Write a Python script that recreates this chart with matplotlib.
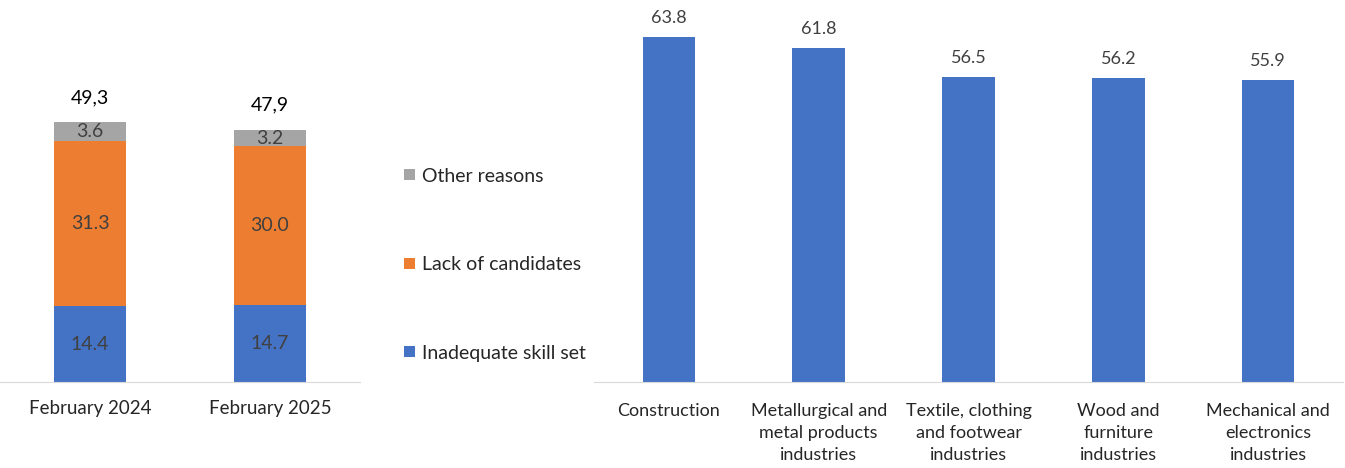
import matplotlib.pyplot as plt
import numpy as np

plt.rcParams['font.family'] = ['Lato', 'DejaVu Sans']

# left panel: reasons for hiring difficulty
periods = ['February 2024', 'February 2025']
skill_set = [14.4, 14.7]
lack_cand = [31.3, 30.0]
other = [3.6, 3.2]
totals_txt = ['49,3', '47,9']

# right panel: sectors
sectors = ['Construction', 'Metallurgical and\nmetal products\nindustries',
           'Textile, clothing\nand footwear\nindustries', 'Wood and\nfurniture\nindustries',
           'Mechanical and\nelectronics\nindustries']
sector_vals = [63.8, 61.8, 56.5, 56.2, 55.9]

blue = '#4472C4'
orange = '#ED7D31'
grey = '#A5A5A5'
txt = '#404040'

W, H = 1345, 468
fig = plt.figure(figsize=(W / 100, H / 100), dpi=100)

def px_axes(l, r, top, bottom):
    return fig.add_axes([l / W, 1 - bottom / H, (r - l) / W, (bottom - top) / H])

# ---- left stacked bars ----
ax1 = px_axes(0, 360, 30, 382)
x = np.arange(len(periods))
bw = 0.4
b1 = ax1.bar(x, skill_set, bw, color=blue, label='Inadequate skill set')
b2 = ax1.bar(x, lack_cand, bw, bottom=skill_set, color=orange, label='Lack of candidates')
bot2 = np.array(skill_set) + np.array(lack_cand)
b3 = ax1.bar(x, other, bw, bottom=bot2, color=grey, label='Other reasons')
for i in range(len(periods)):
    ax1.text(x[i], skill_set[i] / 2, f'{skill_set[i]:.1f}', ha='center', va='center', fontsize=14, color=txt)
    ax1.text(x[i], skill_set[i] + lack_cand[i] / 2, f'{lack_cand[i]:.1f}', ha='center', va='center', fontsize=14, color=txt)
    ax1.text(x[i], bot2[i] + other[i] / 2, f'{other[i]:.1f}', ha='center', va='center', fontsize=14, color=txt)
    ax1.text(x[i], bot2[i] + other[i] + 4.7, totals_txt[i], ha='center', va='center', fontsize=14, color='black')
ax1.set_xlim(-0.5, 1.5)
ax1.set_ylim(0, 66.8)
ax1.set_xticks(x)
ax1.set_xticklabels(periods, fontsize=13.5, color='#262626')
ax1.set_yticks([])
for s in ['top', 'right', 'left']:
    ax1.spines[s].set_visible(False)
ax1.spines['bottom'].set_color('#D9D9D9')
ax1.tick_params(axis='x', length=0, pad=13)

# legend (placed by hand in the gap between panels)
handles = [b3, b2, b1]
labels = ['Other reasons', 'Lack of candidates', 'Inadequate skill set']
ys = [176, 265, 353]
for h, lab, yy in zip(handles, labels, ys):
    fig.legend([h], [lab], loc='center left', bbox_to_anchor=(404 / W, 1 - yy / H),
               frameon=False, fontsize=14, handlelength=0.55, handleheight=0.55,
               handletextpad=0.4, borderpad=0, borderaxespad=0, labelcolor='#262626')

# ---- right bars ----
ax2 = px_axes(594, 1343, 10, 382)
xs = np.arange(len(sectors))
ax2.bar(xs, sector_vals, 0.35, color=blue)
for i, v in enumerate(sector_vals):
    ax2.text(xs[i], v + 3.5, f'{v:.1f}', ha='center', va='center', fontsize=13, color=txt)
ax2.set_xlim(-0.5, len(sectors) - 0.5)
ax2.set_ylim(0, 68.8)
ax2.set_xticks(xs)
ax2.set_xticklabels(sectors, fontsize=13, color='#262626', linespacing=1.45, va='top')
ax2.set_yticks([])
for s in ['top', 'right', 'left']:
    ax2.spines[s].set_visible(False)
ax2.spines['bottom'].set_color('#D9D9D9')
ax2.tick_params(axis='x', length=0, pad=15)

fig.savefig('out.png', dpi=100)
